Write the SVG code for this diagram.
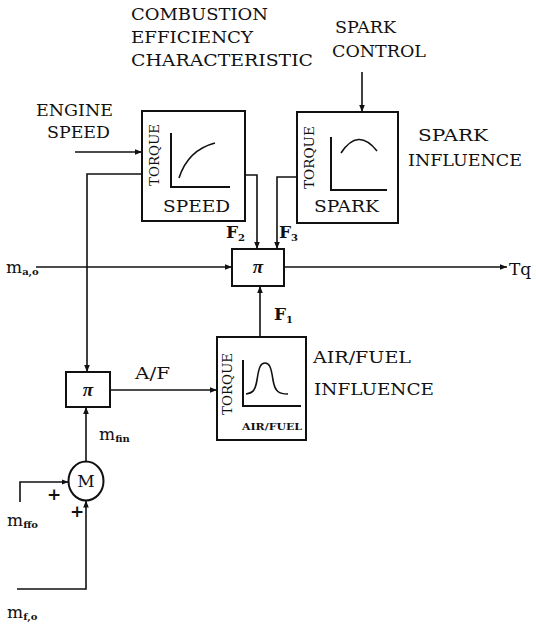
<svg xmlns="http://www.w3.org/2000/svg" width="536" height="624" viewBox="0 0 536 624">
<style>
.bg{fill:#ffffff}
.box{fill:none;stroke:#111;stroke-width:2}
.ln{fill:none;stroke:#111;stroke-width:1.6}
.ax{fill:none;stroke:#111;stroke-width:2}
.cv{fill:none;stroke:#111;stroke-width:1.6}
text{font-family:'DejaVu Serif','Liberation Serif',serif;fill:#111}
.lbl{font-size:17px}
.sm{font-size:12px}
.sub{font-size:10px;font-weight:bold}
.pi{font-family:'Liberation Serif','DejaVu Serif',serif;font-size:19px;font-style:italic;font-weight:bold}
</style>
<defs>
<marker id="arr" viewBox="0 0 10 10" refX="10" refY="5" markerWidth="7" markerHeight="7" markerUnits="userSpaceOnUse" orient="auto">
<path d="M0,1 L10,5 L0,9 z" fill="#111"/>
</marker>
</defs>
<rect class="bg" x="0" y="0" width="536" height="624"/>

<g id="labels">
<text class="lbl" x="131" y="20" textLength="137" lengthAdjust="spacingAndGlyphs">COMBUSTION</text>
<text class="lbl" x="131" y="43" textLength="122" lengthAdjust="spacingAndGlyphs">EFFICIENCY</text>
<text class="lbl" x="131" y="66" textLength="182" lengthAdjust="spacingAndGlyphs">CHARACTERISTIC</text>
<text class="lbl" x="335" y="33" textLength="61" lengthAdjust="spacingAndGlyphs">SPARK</text>
<text class="lbl" x="332" y="57" textLength="94" lengthAdjust="spacingAndGlyphs">CONTROL</text>
<text class="lbl" x="36" y="116" textLength="77" lengthAdjust="spacingAndGlyphs">ENGINE</text>
<text class="lbl" x="47" y="138" textLength="63" lengthAdjust="spacingAndGlyphs">SPEED</text>
<text class="lbl" x="418" y="141" textLength="70" lengthAdjust="spacingAndGlyphs">SPARK</text>
<text class="lbl" x="408" y="166" textLength="114" lengthAdjust="spacingAndGlyphs">INFLUENCE</text>
<text class="lbl" x="313" y="363" textLength="98" lengthAdjust="spacingAndGlyphs">AIR/FUEL</text>
<text class="lbl" x="314" y="395" textLength="120" lengthAdjust="spacingAndGlyphs">INFLUENCE</text>
<text class="lbl" x="135" y="379" textLength="35" lengthAdjust="spacingAndGlyphs">A/F</text>
<text class="lbl" x="226" y="238" font-weight="bold">F<tspan class="sub" dy="3">2</tspan></text>
<text class="lbl" x="279" y="238" font-weight="bold">F<tspan class="sub" dy="3">3</tspan></text>
<text class="lbl" x="274" y="320" font-weight="bold">F<tspan class="sub" dy="3">1</tspan></text>
<text class="lbl" x="6" y="273">m<tspan class="sub" dy="2">a,o</tspan></text>
<text class="lbl" x="509" y="275">Tq</text>
<text class="lbl" x="99" y="440">m<tspan class="sub" dy="2">fin</tspan></text>
<text class="lbl" x="7" y="526">m<tspan class="sub" dy="2">ffo</tspan></text>
<text class="lbl" x="7" y="618">m<tspan class="sub" dy="2">f,o</tspan></text>
<text class="lbl" x="47" y="500" font-weight="bold">+</text>
<text class="lbl" x="70" y="517" font-weight="bold">+</text>
</g>

<g id="speed-box">
<rect class="box" x="142" y="111" width="103" height="110"/>
<text class="sm" transform="translate(159,186) rotate(-90)" textLength="62" lengthAdjust="spacingAndGlyphs">TORQUE</text>
<path class="ax" d="M171,133 V187 H230"/>
<path class="cv" d="M179,178 Q188,150 215,143"/>
<text class="lbl" x="163" y="212" textLength="67" lengthAdjust="spacingAndGlyphs">SPEED</text>
</g>

<g id="spark-box">
<rect class="box" x="297" y="112" width="101" height="111"/>
<text class="sm" transform="translate(314,189) rotate(-90)" textLength="63" lengthAdjust="spacingAndGlyphs">TORQUE</text>
<path class="ax" d="M331,137 V190 H387"/>
<path class="cv" d="M341,153 Q358,127 377,151"/>
<text class="lbl" x="314" y="212" textLength="65" lengthAdjust="spacingAndGlyphs">SPARK</text>
</g>

<g id="pi-top">
<rect class="box" x="232" y="249" width="52" height="37"/>
<text class="pi" x="258" y="273" text-anchor="middle">π</text>
</g>

<g id="airfuel-box">
<rect class="box" x="217" y="337" width="89" height="103"/>
<text class="sm" transform="translate(232,415) rotate(-90)" textLength="62" lengthAdjust="spacingAndGlyphs">TORQUE</text>
<path class="ax" d="M243,360 V406 H301"/>
<path class="cv" d="M246,394 C252,393 255,392 257,380 C259,366 261,363 265,363 C269,363 271,366 273,380 C275,392 279,394 288,394"/>
<text x="242" y="430" font-size="10" font-weight="bold" textLength="60" lengthAdjust="spacingAndGlyphs">AIR/FUEL</text>
</g>

<g id="pi-low">
<rect class="box" x="66" y="372" width="44" height="35"/>
<text class="pi" x="88" y="396" text-anchor="middle">π</text>
</g>

<g id="m-node">
<ellipse class="box" cx="86" cy="481" rx="17.5" ry="19.5"/>
<text class="lbl" x="86" y="487" text-anchor="middle">M</text>
</g>

<g id="connectors">
<path class="ln" d="M362,72 V112" marker-end="url(#arr)"/>
<path class="ln" d="M75,152 H142" marker-end="url(#arr)"/>
<path class="ln" d="M142,174 H87 V372" marker-end="url(#arr)"/>
<path class="ln" d="M245,175 H257 V249" marker-end="url(#arr)"/>
<path class="ln" d="M297,177 H277 V249" marker-end="url(#arr)"/>
<path class="ln" d="M36,267 H232" marker-end="url(#arr)"/>
<path class="ln" d="M284,267 H507" marker-end="url(#arr)"/>
<path class="ln" d="M260,337 V286" marker-end="url(#arr)"/>
<path class="ln" d="M110,390 H217" marker-end="url(#arr)"/>
<path class="ln" d="M86,461.5 V407" marker-end="url(#arr)"/>
<path class="ln" d="M20,502 V482 H68.5" marker-end="url(#arr)"/>
<path class="ln" d="M17,589 H86 V500.5" marker-end="url(#arr)"/>
</g>
</svg>
